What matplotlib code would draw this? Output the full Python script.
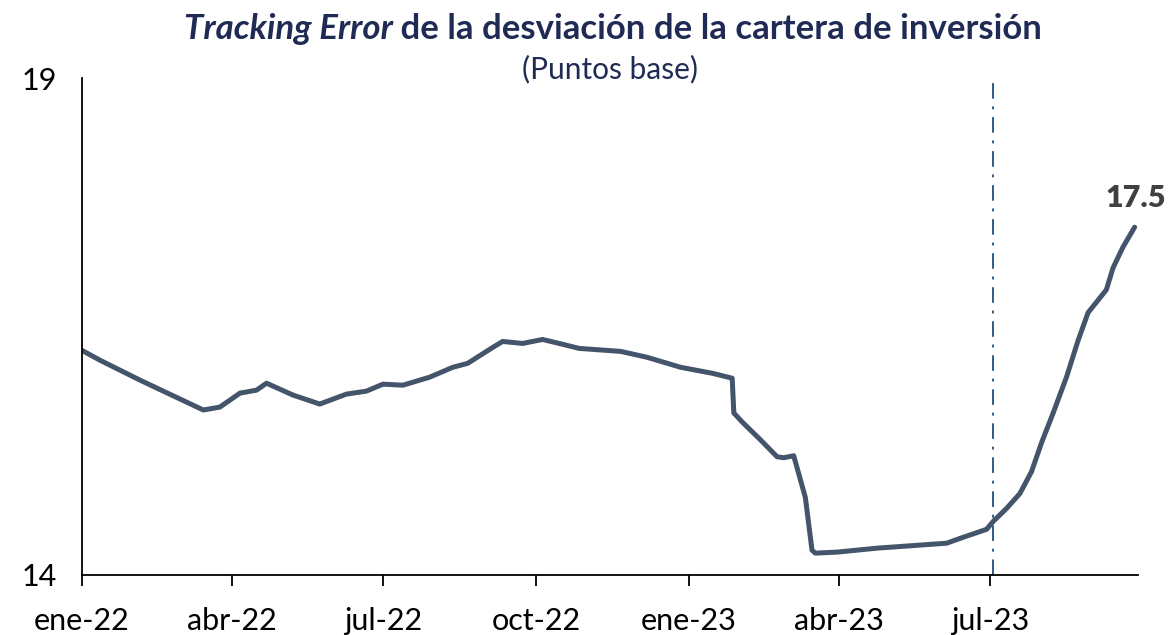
import matplotlib
matplotlib.use("Agg")
import matplotlib.pyplot as plt
import matplotlib.dates as mdates
import pandas as pd

dates = ["2022-01-01", "2022-01-12", "2022-02-05", "2022-03-15", "2022-03-25", "2022-04-06",
         "2022-04-16", "2022-04-22", "2022-05-08", "2022-05-24", "2022-06-09", "2022-06-21",
         "2022-07-01", "2022-07-13", "2022-07-29", "2022-08-12", "2022-08-21", "2022-09-05",
         "2022-09-11", "2022-09-23", "2022-10-05", "2022-10-15", "2022-10-27", "2022-11-21",
         "2022-12-07", "2022-12-27", "2023-01-15", "2023-01-27", "2023-01-28", "2023-02-02",
         "2023-02-13", "2023-02-23", "2023-02-27", "2023-03-05", "2023-03-12", "2023-03-16",
         "2023-03-18", "2023-03-31", "2023-04-24", "2023-06-05", "2023-06-15", "2023-06-29",
         "2023-07-03", "2023-07-11", "2023-07-19", "2023-07-26", "2023-08-01", "2023-08-08",
         "2023-08-16", "2023-08-23", "2023-08-29", "2023-09-09", "2023-09-13", "2023-09-19",
         "2023-09-26"]
values = [16.26, 16.16, 15.96, 15.66, 15.69, 15.83,
          15.86, 15.93, 15.81, 15.72, 15.82, 15.85,
          15.92, 15.91, 15.99, 16.09, 16.13, 16.29,
          16.35, 16.33, 16.37, 16.33, 16.28, 16.25,
          16.19, 16.09, 16.03, 15.98, 15.63, 15.54,
          15.36, 15.19, 15.18, 15.20, 14.78, 14.25,
          14.22, 14.23, 14.27, 14.32, 14.38, 14.46,
          14.54, 14.67, 14.82, 15.04, 15.33, 15.63,
          15.99, 16.36, 16.64, 16.87, 17.09, 17.30,
          17.50]
tick_dates = ["2022-01-01", "2022-04-01", "2022-07-01", "2022-10-01",
              "2023-01-01", "2023-04-01", "2023-07-01"]
tick_labels = ["ene-22", "abr-22", "jul-22", "oct-22", "ene-23", "abr-23", "jul-23"]
vline_date = "2023-07-03"
end_label = "17.5"
x_end = "2023-09-28"

plt.rcParams['font.family'] = ['Lato', 'DejaVu Sans']

d = pd.to_datetime(dates)
fig = plt.figure(figsize=(11.74, 6.35), dpi=100)
ax = fig.add_axes([0.0698, 0.0945, 0.8995, 0.7825])

ax.plot(d, values, color="#44546A", lw=3.6, solid_joinstyle="round", solid_capstyle="round")
ax.axvline(pd.Timestamp(vline_date), color="#2F5B86", lw=1.4, ls=(0, (8, 4, 1.5, 4)))

ax.set_ylim(14, 19)
ax.set_yticks([14, 19])
ax.set_xlim(pd.Timestamp(dates[0]), pd.Timestamp(x_end))
ax.set_xticks(pd.to_datetime(tick_dates))
ax.set_xticklabels(tick_labels)
ax.tick_params(axis='x', direction='out', length=8, width=1.3, labelsize=22, pad=15, colors='black')
ax.tick_params(axis='y', length=0, labelsize=22, pad=18)
for s in ['top', 'right']:
    ax.spines[s].set_visible(False)
for s in ['left', 'bottom']:
    ax.spines[s].set_linewidth(1.3)
    ax.spines[s].set_color('black')

ax.annotate(end_label, xy=(d[-1], values[-1]), xytext=(-21, 11), textcoords='offset points',
            fontsize=22, fontweight='heavy', color='#404040', ha='left', va='bottom')

# Title with italic part
navy = "#1F2B55"
fig.canvas.draw()
r = fig.canvas.get_renderer()
t1 = fig.text(0, 0.955, "Tracking Error", fontsize=25, fontweight='bold', style='italic',
              color=navy, va='center', ha='left')
t2 = fig.text(0, 0.955, " de la desviación de la cartera de inversión", fontsize=25,
              fontweight='bold', color=navy, va='center', ha='left')
w1 = t1.get_window_extent(r).width
w2 = t2.get_window_extent(r).width
W = fig.bbox.width
cx = 613
x0 = cx - (w1 + w2) / 2
t1.set_x(x0 / W)
t2.set_x((x0 + w1) / W)
fig.text(610 / W, 0.891, "(Puntos base)", fontsize=21.5, color=navy, ha='center', va='center')

fig.savefig("out.png", dpi=100)
